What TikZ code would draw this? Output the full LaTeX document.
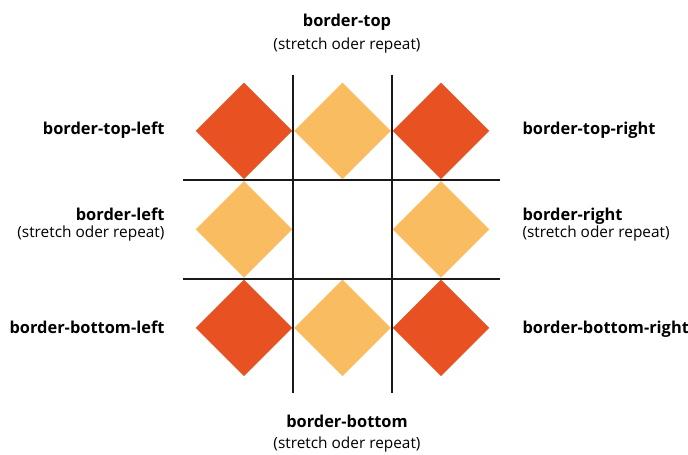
\documentclass[tikz,border=0pt]{standalone}
\usepackage{fontspec}
\setmainfont{Open Sans}
\usetikzlibrary{shapes.geometric}
\definecolor{cornerred}{RGB}{232,82,34}
\definecolor{edgeyellow}{RGB}{249,188,96}
\begin{document}
\begin{tikzpicture}[x=1pt, y=-1pt,
    tile/.style={diamond, aspect=1, inner sep=0pt, minimum width=96.6pt, minimum height=96.6pt},
    corner/.style={tile, fill=cornerred},
    edge/.style={tile, fill=edgeyellow},
    title/.style={font=\fontsize{16.4}{18}\selectfont\bfseries},
    note/.style={font=\fontsize{15.4}{18}\selectfont}]
            \useasboundingbox (0,0) rectangle (688,455);

            % Corner and edge tiles
            \node[corner] (tl) at (244,130.8) {};
            \node[edge]   (t)  at (342.5,130.8) {};
            \node[corner] (tr) at (441,130.8) {};
            \node[edge]   (l)  at (244,229.3) {};
            \node[edge]   (r)  at (441,229.3) {};
            \node[corner] (bl) at (244,327.8) {};
            \node[edge]   (b)  at (342.5,327.8) {};
            \node[corner] (br) at (441,327.8) {};

            % Slicing lines
            \draw[line width=1.8pt, black!90] (293.2,74.5) -- (293.2,392.5);
            \draw[line width=1.8pt, black!90] (391.8,74.5) -- (391.8,392.5);
            \draw[line width=1.8pt, black!90] (183,180) -- (500,180);
            \draw[line width=1.8pt, black!90] (183,278.6) -- (500,278.6);

            % Labels top and bottom
            \node[title, anchor=base] (ttop) at (347,27) {border-top};
            \node[note, anchor=base] (ntop) at (347,49) {(stretch oder repeat)};
            \node[title, anchor=base] (tbot) at (347,427) {border-bottom};
            \node[note, anchor=base] (nbot) at (347,448) {(stretch oder repeat)};

            % Labels left
            \node[title, anchor=base east] (ttl) at (168,134) {border-top-left};
            \node[title, anchor=base east] (tl2) at (168,220) {border-left};
            \node[note, anchor=base east] (nl) at (168,237) {(stretch oder repeat)};
            \node[title, anchor=base east] (tbl) at (168,333) {border-bottom-left};

            % Labels right
            \node[title, anchor=base west] (ttr) at (519,134) {border-top-right};
            \node[title, anchor=base west] (tr2) at (519,220) {border-right};
            \node[note, anchor=base west] (nr) at (519,237) {(stretch oder repeat)};
            \node[title, anchor=base west] (tbr) at (519,333) {border-bottom-right};
\end{tikzpicture}
\end{document}
